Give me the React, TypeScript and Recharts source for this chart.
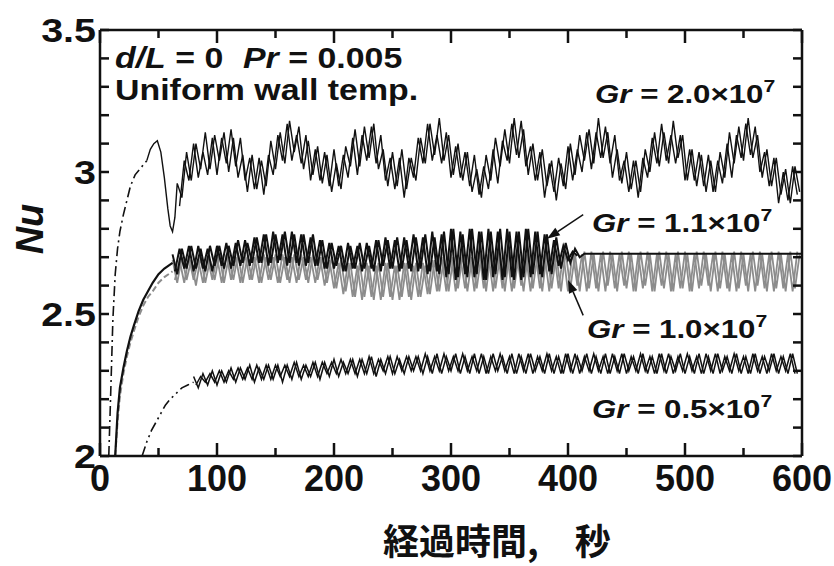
import { LineChart, Line, XAxis, YAxis, ReferenceLine } from "recharts"

// plot box in page pixels (chart is pinned to the page corner)
const LEFT = 100
const TOP = 30
const RIGHT = 802
const BOTTOM = 456
const INK = "#111"
const GREY = "#8c8c8c"
const FONT = "'Liberation Sans', Arial, Helvetica, sans-serif"

const xTicks = [0, 50, 100, 150, 200, 250, 300, 350, 400, 450, 500, 550, 600]
const xLabels = [0, 100, 200, 300, 400, 500, 600]
const yTicks = [2, 2.1, 2.2, 2.3, 2.4, 2.5, 2.6, 2.7, 2.8, 2.9, 3, 3.1, 3.2, 3.3, 3.4, 3.5]
const yLabels = [2, 2.5, 3, 3.5]

// sampling instants for the noisy parts (every 4 s)
const every4s = (start: number, count: number) => Array.from({ length: count }, (_, i) => start + 4 * i)

// Gr = 2.0e7 : dash-dot start-up, then oscillating (two interleaved traces)
const gr20HeadTime = [7.5, 9, 11, 13, 15, 17, 20, 23, 26, 30, 34, 38, 40]
const gr20HeadNu = [2.0, 2.2, 2.48, 2.64, 2.73, 2.79, 2.85, 2.9, 2.95, 2.99, 3.01, 3.03, 3.04]
const gr20Time = [40, 43, 46, 49, 52, 55, 58, 60, 62, 64, ...every4s(66, 134)]
const gr20Nu = [
  3.04, 3.08, 3.1, 3.11, 3.07, 2.98, 2.87, 2.81, 2.79, 2.84,
  2.96, 2.91, 3.07, 2.97, 3.1, 3.01, 3.14, 3.01, 3.13, 3.04,
  3.14, 3.0, 3.12, 2.98, 3.06, 2.93, 3.06, 2.94, 3.04, 2.95,
  3.11, 3.01, 3.14, 3.03, 3.18, 3.07, 3.16, 3.01, 3.11, 2.99,
  3.09, 2.96, 3.06, 2.93, 3.03, 2.94, 3.09, 3.02, 3.15, 3.02,
  3.16, 3.05, 3.17, 3.01, 3.08, 2.95, 3.07, 2.95, 3.08, 2.94,
  3.05, 2.97, 3.12, 3.03, 3.17, 3.06, 3.19, 3.04, 3.13, 2.99,
  3.1, 2.97, 3.07, 2.93, 3.01, 2.91, 3.06, 2.97, 3.12, 3.02,
  3.15, 3.03, 3.19, 3.05, 3.15, 2.99, 3.1, 2.97, 3.08, 2.95,
  3.04, 2.9, 3.03, 2.94, 3.1, 2.99, 3.13, 3.04, 3.15, 3.03,
  3.19, 3.05, 3.14, 2.98, 3.08, 2.96, 3.07, 2.94, 3.04, 2.93,
  3.08, 3.0, 3.14, 3.02, 3.14, 3.03, 3.18, 3.05, 3.13, 2.97,
  3.08, 2.95, 3.06, 2.93, 3.04, 2.93, 3.07, 2.98, 3.14, 3.03,
  3.16, 3.04, 3.19, 3.05, 3.13, 2.98, 3.08, 2.95, 3.05, 2.92,
  3.01, 2.89, 3.02, 2.93,
]
const gr20TimeB = every4s(68, 133)
const gr20NuB = [
  2.88, 3.04, 2.97, 3.1, 2.98, 3.07, 2.99, 3.12, 2.99, 3.12,
  3.03, 3.15, 3.02, 3.12, 2.97, 3.05, 2.94, 3.05, 2.92, 3.06,
  2.99, 3.13, 3.04, 3.17, 3.04, 3.13, 3.03, 3.13, 2.97, 3.08,
  2.97, 3.07, 2.95, 3.08, 2.95, 3.06, 2.98, 3.12, 2.99, 3.13,
  3.04, 3.16, 3.03, 3.13, 2.97, 3.05, 2.94, 3.05, 2.91, 3.05,
  2.98, 3.12, 3.03, 3.17, 3.04, 3.13, 3.03, 3.14, 2.98, 3.09,
  2.98, 3.07, 2.95, 3.06, 2.92, 3.02, 2.94, 3.08, 2.96, 3.11,
  3.04, 3.17, 3.06, 3.18, 3.02, 3.09, 2.97, 3.07, 2.91, 3.03,
  2.93, 3.05, 2.95, 3.09, 2.97, 3.08, 3.0, 3.14, 3.01, 3.14,
  3.05, 3.16, 3.03, 3.13, 2.97, 3.04, 2.93, 3.04, 2.91, 3.05,
  2.98, 3.12, 3.03, 3.17, 3.04, 3.13, 3.03, 3.13, 2.97, 3.08,
  2.97, 3.07, 2.95, 3.06, 2.93, 3.04, 2.96, 3.1, 2.98, 3.13,
  3.05, 3.17, 3.06, 3.16, 3.0, 3.07, 2.95, 3.05, 2.89, 3.0,
  2.9, 3.02, 2.92,
]

// Gr = 1.1e7 : black, oscillation dies out near 410 s
const gr11HeadTime = [13, 15, 17, 20, 23, 26, 29, 33, 37, 41, 45, 50, 55, 62]
const gr11HeadNu = [2.0, 2.15, 2.24, 2.31, 2.37, 2.42, 2.46, 2.51, 2.55, 2.58, 2.61, 2.64, 2.66, 2.68]
const gr11Time = [...every4s(62, 88), 414, 600]
const gr11Nu = [
  2.71, 2.64, 2.73, 2.66, 2.74, 2.66, 2.73, 2.65, 2.74, 2.67,
  2.74, 2.66, 2.74, 2.67, 2.76, 2.68, 2.75, 2.68, 2.77, 2.68,
  2.78, 2.68, 2.78, 2.69, 2.79, 2.68, 2.78, 2.67, 2.78, 2.68,
  2.78, 2.67, 2.76, 2.66, 2.75, 2.67, 2.74, 2.65, 2.74, 2.66,
  2.75, 2.66, 2.74, 2.65, 2.76, 2.67, 2.76, 2.66, 2.77, 2.66,
  2.76, 2.65, 2.77, 2.66, 2.78, 2.65, 2.77, 2.64, 2.79, 2.64,
  2.8, 2.63, 2.78, 2.63, 2.8, 2.64, 2.79, 2.62, 2.79, 2.64,
  2.8, 2.63, 2.79, 2.62, 2.79, 2.63, 2.8, 2.64, 2.79, 2.63,
  2.78, 2.64, 2.77, 2.66, 2.75, 2.68, 2.73, 2.7,
  2.712, 2.712,
]
const gr11TimeB = every4s(64, 87)
const gr11NuB = [
  2.65, 2.73, 2.66, 2.74, 2.65, 2.74, 2.66, 2.73, 2.65, 2.74,
  2.67, 2.75, 2.66, 2.75, 2.67, 2.76, 2.67, 2.77, 2.68, 2.78,
  2.67, 2.79, 2.68, 2.78, 2.67, 2.79, 2.68, 2.78, 2.67, 2.77,
  2.67, 2.76, 2.66, 2.75, 2.66, 2.74, 2.65, 2.75, 2.66, 2.74,
  2.65, 2.75, 2.66, 2.76, 2.65, 2.77, 2.66, 2.76, 2.65, 2.77,
  2.66, 2.78, 2.65, 2.77, 2.64, 2.79, 2.65, 2.78, 2.63, 2.8,
  2.62, 2.79, 2.64, 2.8, 2.63, 2.79, 2.62, 2.8, 2.63, 2.79,
  2.62, 2.8, 2.63, 2.79, 2.62, 2.8, 2.63, 2.79, 2.64, 2.78,
  2.65, 2.76, 2.67, 2.74, 2.69, 2.72, 2.705,
]

// Gr = 1.0e7 : grey, keeps oscillating
const gr10HeadTime = [13, 15, 17, 20, 23, 26, 29, 33, 37, 41, 45, 50, 55, 62]
const gr10HeadNu = [2.0, 2.12, 2.21, 2.29, 2.35, 2.4, 2.44, 2.49, 2.53, 2.56, 2.58, 2.61, 2.63, 2.65]
const gr10Time = every4s(62, 135)
const gr10Nu = [
  2.69, 2.61, 2.7, 2.62, 2.69, 2.6, 2.7, 2.61, 2.69, 2.62,
  2.71, 2.61, 2.7, 2.62, 2.71, 2.61, 2.7, 2.62, 2.71, 2.61,
  2.7, 2.62, 2.71, 2.61, 2.7, 2.61, 2.71, 2.62, 2.7, 2.61,
  2.71, 2.62, 2.7, 2.61, 2.7, 2.59, 2.69, 2.58, 2.68, 2.56,
  2.68, 2.56, 2.67, 2.55, 2.68, 2.56, 2.68, 2.55, 2.67, 2.56,
  2.68, 2.55, 2.68, 2.56, 2.67, 2.57, 2.69, 2.58, 2.7, 2.58,
  2.7, 2.59, 2.71, 2.58, 2.7, 2.59, 2.71, 2.58, 2.72, 2.59,
  2.71, 2.58, 2.72, 2.59, 2.71, 2.58, 2.72, 2.59, 2.71, 2.58,
  2.72, 2.59, 2.71, 2.58, 2.72, 2.59, 2.71, 2.58, 2.72, 2.59,
  2.71, 2.58, 2.72, 2.6, 2.71, 2.58, 2.72, 2.59, 2.71, 2.58,
  2.72, 2.6, 2.71, 2.58, 2.72, 2.59, 2.71, 2.58, 2.72, 2.59,
  2.71, 2.58, 2.72, 2.6, 2.71, 2.58, 2.72, 2.59, 2.71, 2.58,
  2.72, 2.59, 2.71, 2.58, 2.72, 2.6, 2.71, 2.58, 2.72, 2.59,
  2.71, 2.58, 2.72, 2.59, 2.71,
]
const gr10TimeB = every4s(64, 134)
const gr10NuB = [
  2.62, 2.69, 2.61, 2.7, 2.62, 2.69, 2.61, 2.7, 2.62, 2.7,
  2.61, 2.71, 2.62, 2.7, 2.61, 2.71, 2.62, 2.7, 2.61, 2.71,
  2.62, 2.7, 2.61, 2.71, 2.62, 2.7, 2.61, 2.71, 2.62, 2.7,
  2.61, 2.7, 2.6, 2.69, 2.59, 2.68, 2.57, 2.68, 2.56, 2.67,
  2.55, 2.68, 2.56, 2.67, 2.55, 2.68, 2.56, 2.67, 2.55, 2.68,
  2.56, 2.67, 2.56, 2.68, 2.57, 2.69, 2.58, 2.7, 2.58, 2.71,
  2.58, 2.7, 2.59, 2.71, 2.58, 2.72, 2.59, 2.71, 2.58, 2.72,
  2.59, 2.71, 2.58, 2.72, 2.6, 2.71, 2.58, 2.72, 2.59, 2.71,
  2.58, 2.72, 2.59, 2.71, 2.58, 2.72, 2.6, 2.71, 2.58, 2.72,
  2.59, 2.71, 2.58, 2.72, 2.59, 2.71, 2.6, 2.72, 2.58, 2.71,
  2.59, 2.72, 2.58, 2.71, 2.6, 2.72, 2.58, 2.71, 2.59, 2.72,
  2.58, 2.71, 2.59, 2.72, 2.6, 2.71, 2.58, 2.72, 2.59, 2.71,
  2.58, 2.72, 2.6, 2.71, 2.58, 2.72, 2.59, 2.71, 2.58, 2.72,
  2.59, 2.71, 2.58, 2.72,
]

// Gr = 0.5e7 : dash-dot-dot start-up, then narrow braided band
const gr05HeadTime = [36, 40, 44, 48, 52, 56, 60, 65, 70, 75, 80]
const gr05HeadNu = [2.0, 2.05, 2.09, 2.12, 2.15, 2.18, 2.2, 2.22, 2.24, 2.25, 2.26]
const gr05Time = every4s(80, 130)
const gr05Nu = [
  2.28, 2.24, 2.29, 2.25, 2.3, 2.25, 2.3, 2.26, 2.31, 2.26,
  2.31, 2.27, 2.32, 2.26, 2.31, 2.27, 2.32, 2.27, 2.32, 2.26,
  2.32, 2.27, 2.33, 2.27, 2.32, 2.28, 2.33, 2.27, 2.33, 2.28,
  2.34, 2.28, 2.33, 2.29, 2.34, 2.28, 2.34, 2.29, 2.35, 2.28,
  2.34, 2.29, 2.35, 2.29, 2.34, 2.29, 2.35, 2.3, 2.35, 2.29,
  2.35, 2.29, 2.36, 2.29, 2.35, 2.3, 2.36, 2.29, 2.35, 2.29,
  2.36, 2.29, 2.35, 2.29, 2.36, 2.3, 2.35, 2.29, 2.36, 2.29,
  2.35, 2.29, 2.36, 2.3, 2.35, 2.29, 2.36, 2.29, 2.35, 2.29,
  2.36, 2.29, 2.35, 2.3, 2.36, 2.29, 2.35, 2.29, 2.36, 2.29,
  2.35, 2.29, 2.36, 2.3, 2.35, 2.29, 2.36, 2.29, 2.35, 2.29,
  2.36, 2.29, 2.35, 2.3, 2.36, 2.29, 2.35, 2.29, 2.36, 2.29,
  2.35, 2.29, 2.36, 2.3, 2.35, 2.29, 2.36, 2.29, 2.35, 2.29,
  2.36, 2.29, 2.35, 2.3, 2.36, 2.29, 2.35, 2.29, 2.36, 2.29,
]
const gr05TimeB = every4s(82, 129)
const gr05NuB = [
  2.25, 2.28, 2.26, 2.29, 2.26, 2.3, 2.26, 2.3, 2.27, 2.31,
  2.27, 2.31, 2.27, 2.32, 2.27, 2.32, 2.27, 2.32, 2.28, 2.32,
  2.28, 2.33, 2.28, 2.32, 2.28, 2.33, 2.28, 2.33, 2.29, 2.33,
  2.29, 2.34, 2.29, 2.34, 2.29, 2.34, 2.29, 2.35, 2.29, 2.34,
  2.3, 2.35, 2.29, 2.35, 2.3, 2.35, 2.3, 2.35, 2.3, 2.36,
  2.3, 2.35, 2.3, 2.36, 2.3, 2.35, 2.3, 2.36, 2.3, 2.35,
  2.3, 2.36, 2.29, 2.35, 2.3, 2.36, 2.3, 2.35, 2.29, 2.36,
  2.3, 2.36, 2.29, 2.35, 2.3, 2.36, 2.3, 2.35, 2.29, 2.36,
  2.3, 2.36, 2.29, 2.35, 2.3, 2.36, 2.3, 2.35, 2.29, 2.36,
  2.3, 2.36, 2.29, 2.35, 2.3, 2.36, 2.3, 2.35, 2.29, 2.36,
  2.3, 2.36, 2.29, 2.35, 2.3, 2.36, 2.3, 2.35, 2.29, 2.36,
  2.3, 2.36, 2.29, 2.35, 2.3, 2.36, 2.3, 2.35, 2.29, 2.36,
  2.3, 2.35, 2.29, 2.36, 2.3, 2.35, 2.3, 2.36, 2.29,
]

// arrows pointing from the labels to the curves (data coords)
const arrow11 = [{ x: 413, y: 2.85 }, { x: 382, y: 2.765 }]
const arrow10 = [{ x: 413, y: 2.495 }, { x: 400, y: 2.62 }]

const pts = (t: number[], nu: number[]) => t.map((v, i) => ({ t: v, nu: nu[i] }))

// pixel position of a tick value on the fixed plot box (for the inward tick marks)
const px = (t: number) => LEFT + (t / 600) * (RIGHT - LEFT)
const py = (nu: number) => BOTTOM - ((nu - 2) / 1.5) * (BOTTOM - TOP)

function XTick({ x, payload }: any) {
  if (!xLabels.includes(payload.value)) return <g />
  return (
    <text x={x} y={491} textAnchor="middle" fontSize={36} fontWeight="bold" fontFamily={FONT} fill={INK}>
      {payload.value}
    </text>
  )
}

function YTick({ y, payload }: any) {
  if (!yLabels.includes(payload.value)) return <g />
  return (
    <g transform={`translate(96,${y + 12}) scale(1.16,1)`}>
      <text x={0} y={0} textAnchor="end" fontSize={34} fontWeight="bold" fontFamily={FONT} fill={INK}>
        {payload.value}
      </text>
    </g>
  )
}

function Arrow({ x1, y1, x2, y2 }: any) {
  const a = Math.atan2(y2 - y1, x2 - x1)
  const L = 13
  const w = 4.5
  const bx = x2 - L * Math.cos(a)
  const by = y2 - L * Math.sin(a)
  const ox = -Math.sin(a) * w
  const oy = Math.cos(a) * w
  return (
    <g>
      <line x1={x1} y1={y1} x2={bx} y2={by} stroke={INK} strokeWidth={1.5} />
      <polygon points={`${x2},${y2} ${bx + ox},${by + oy} ${bx - ox},${by - oy}`} fill={INK} />
    </g>
  )
}

function GrLabel({ x, y, value }: any) {
  return (
    <g transform={`translate(${x},${y}) scale(1.25,1)`}>
      <text x={0} y={0} fontSize={25} fontWeight="bold" fontFamily={FONT} fill={INK}>
        <tspan fontStyle="italic">Gr</tspan> = {value}×10
        <tspan dy={-11} fontSize={17}>7</tspan>
      </text>
    </g>
  )
}

const noisy = (key: string, data: any[], stroke: string, width: number) => (
  <Line key={key} data={data} dataKey="nu" stroke={stroke} strokeWidth={width} dot={false} isAnimationActive={false} />
)

export default function App() {
  return (
    <div style={{ position: "absolute", left: 0, top: 0, width: 834, height: 566, background: "#fff" }}>
      <LineChart width={834} height={566} margin={{ top: TOP, right: 834 - RIGHT, bottom: 566 - BOTTOM - 40, left: LEFT - 50 }}>
        <XAxis
          type="number"
          dataKey="t"
          domain={[0, 600]}
          ticks={xTicks}
          interval={0}
          height={40}
          tickLine={false}
          axisLine={{ stroke: INK, strokeWidth: 2.5 }}
          tick={<XTick />}
        />
        <YAxis
          type="number"
          dataKey="nu"
          domain={[2, 3.5]}
          ticks={yTicks}
          interval={0}
          width={50}
          tickLine={false}
          axisLine={{ stroke: INK, strokeWidth: 2.5 }}
          tick={<YTick />}
        />
        <ReferenceLine x={600} stroke={INK} strokeWidth={2.5} />
        <ReferenceLine y={3.5} stroke={INK} strokeWidth={2.5} />

        <Line data={pts(gr10HeadTime, gr10HeadNu)} dataKey="nu" stroke={GREY} strokeWidth={2} strokeDasharray="6 3" dot={false} isAnimationActive={false} />
        {noisy("g10a", pts(gr10Time, gr10Nu), GREY, 1.8)}
        {noisy("g10b", pts(gr10TimeB, gr10NuB), GREY, 1.8)}

        <Line data={pts(gr05HeadTime, gr05HeadNu)} dataKey="nu" stroke={INK} strokeWidth={1.6} strokeDasharray="10 4 2 4 2 4" dot={false} isAnimationActive={false} />
        {noisy("g05a", pts(gr05Time, gr05Nu), INK, 1.5)}
        {noisy("g05b", pts(gr05TimeB, gr05NuB), INK, 1.5)}

        <Line data={pts(gr11HeadTime, gr11HeadNu)} dataKey="nu" stroke={INK} strokeWidth={2.2} dot={false} isAnimationActive={false} />
        {noisy("g11a", pts(gr11Time, gr11Nu), INK, 2)}
        {noisy("g11b", pts(gr11TimeB, gr11NuB), INK, 2)}

        <Line data={pts(gr20HeadTime, gr20HeadNu)} dataKey="nu" stroke={INK} strokeWidth={1.6} strokeDasharray="10 4 2 4" dot={false} isAnimationActive={false} />
        {noisy("g20a", pts(gr20Time, gr20Nu), INK, 1.4)}
        {noisy("g20b", pts(gr20TimeB, gr20NuB), INK, 1.4)}

        <ReferenceLine segment={arrow11} shape={<Arrow />} ifOverflow="visible" />
        <ReferenceLine segment={arrow10} shape={<Arrow />} ifOverflow="visible" />
      </LineChart>

      <svg width={834} height={566} style={{ position: "absolute", left: 0, top: 0, pointerEvents: "none" }}>
        {/* inward tick marks on all four sides */}
        <g stroke={INK} strokeWidth={2.5}>
          {xTicks.map((v) => {
            const len = xLabels.includes(v) ? 13 : 8
            return (
              <g key={`xt${v}`}>
                <line x1={px(v)} x2={px(v)} y1={BOTTOM} y2={BOTTOM - len} />
                <line x1={px(v)} x2={px(v)} y1={TOP} y2={TOP + len} />
              </g>
            )
          })}
          {yTicks.map((v) => (
            <g key={`yt${v}`}>
              <line x1={LEFT} x2={LEFT + 9} y1={py(v)} y2={py(v)} />
              <line x1={RIGHT} x2={RIGHT - 9} y1={py(v)} y2={py(v)} />
            </g>
          ))}
        </g>

        <g transform="translate(115,68) scale(1.13,1)">
          <text x={0} y={0} fontSize={30} fontWeight="bold" fontFamily={FONT} fill={INK}>
            <tspan fontStyle="italic">d/L</tspan> = 0
          </text>
        </g>
        <g transform="translate(243,68) scale(1.13,1)">
          <text x={0} y={0} fontSize={30} fontWeight="bold" fontFamily={FONT} fill={INK}>
            <tspan fontStyle="italic">Pr</tspan> = 0.005
          </text>
        </g>
        <g transform="translate(115,100) scale(1.13,1)">
          <text x={0} y={0} fontSize={30} fontWeight="bold" fontFamily={FONT} fill={INK}>
            Uniform wall temp.
          </text>
        </g>
        <GrLabel x={595} y={103} value="2.0" />
        <GrLabel x={592} y={232} value="1.1" />
        <GrLabel x={587} y={338} value="1.0" />
        <GrLabel x={592} y={418} value="0.5" />
        <text transform="translate(43,229) rotate(-90)" textAnchor="middle" fontSize={38} fontWeight="bold" fontStyle="italic" fontFamily={FONT} fill={INK}>
          Nu
        </text>
        <text x={383} y={555} fontSize={36} fontWeight="bold" fontFamily="'Noto Sans CJK JP', sans-serif" fill={INK}>
          経過時間,　秒
        </text>
      </svg>
    </div>
  )
}
